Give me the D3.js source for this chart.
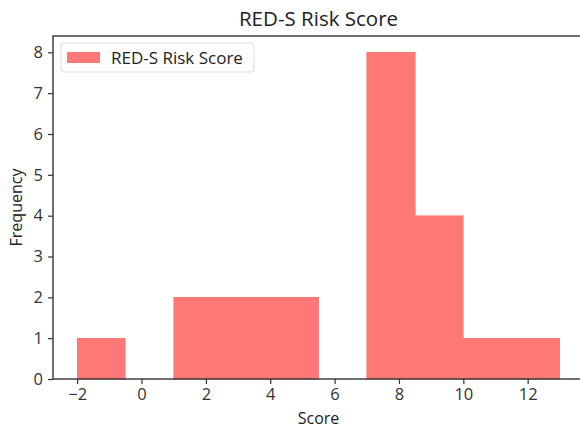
<!DOCTYPE html>
<html>
<head>
<meta charset="utf-8">
<script src="https://cdn.jsdelivr.net/npm/d3@7"></script>
<style>
  body { margin: 0; background: #fff; }
  svg { display: block; font-family: "Open Sans", "Noto Sans", sans-serif; }
</style>
</head>
<body>
<div id="chart"></div>
<script>
// histogram bins (edges) and counts
const binEdges = [-2, -0.5, 1, 2.5, 4, 5.5, 7, 8.5, 10, 11.5, 13];
const counts = [1, 0, 2, 2, 2, 0, 8, 4, 1, 1];
const xTicks = [-2, 0, 2, 4, 6, 8, 10, 12];
const yTicks = [0, 1, 2, 3, 4, 5, 6, 7, 8];
const seriesName = "RED-S Risk Score";

const width = 580, height = 428;
const margin = {top: 36, right: -4, bottom: 49, left: 53};
const barColor = "#ff7878";

const svg = d3.select("#chart").append("svg")
  .attr("width", width)
  .attr("height", height);

const bins = counts.map((c, i) => ({x0: binEdges[i], x1: binEdges[i + 1], count: c}));

const xLo = binEdges[0], xHi = binEdges[binEdges.length - 1];
const pad = (xHi - xLo) * 0.05;
const x = d3.scaleLinear()
  .domain([xLo - pad, xHi + pad])
  .range([margin.left, width - margin.right]);
const y = d3.scaleLinear()
  .domain([0, d3.max(counts) * 1.05])
  .range([height - margin.bottom, margin.top]);

svg.append("g")
  .attr("shape-rendering", "crispEdges")
  .selectAll("rect")
  .data(bins.filter(d => d.count > 0))
  .join("rect")
  .attr("x", d => x(d.x0))
  .attr("width", d => x(d.x1) - x(d.x0))
  .attr("y", d => y(d.count))
  .attr("height", d => y(0) - y(d.count))
  .attr("fill", barColor)
  .attr("stroke", barColor)
  .attr("stroke-width", 0.6);

const xAxis = svg.append("g")
  .attr("transform", `translate(0,${height - margin.bottom})`)
  .call(d3.axisBottom(x).tickValues(xTicks).tickSize(5).tickPadding(4)
    .tickFormat(d => d < 0 ? "\u2212" + Math.abs(d) : d));
const yAxis = svg.append("g")
  .attr("transform", `translate(${margin.left},0)`)
  .call(d3.axisLeft(y).tickValues(yTicks).tickSize(5).tickPadding(5));

[xAxis, yAxis].forEach(g => {
  g.select(".domain").remove();
  g.selectAll("line").attr("stroke", "#333").attr("stroke-width", 1.2);
  g.selectAll("text").attr("fill", "#333").style("font-size", "16.5px")
    .style("font-family", "'Open Sans', 'Noto Sans', sans-serif");
});

// frame
svg.append("rect")
  .attr("x", x.range()[0])
  .attr("y", margin.top)
  .attr("width", x.range()[1] - x.range()[0])
  .attr("height", y.range()[0] - margin.top)
  .attr("fill", "none")
  .attr("stroke", "#333")
  .attr("stroke-width", 1.4);

svg.append("text")
  .attr("x", (x.range()[0] + x.range()[1]) / 2)
  .attr("y", 26)
  .attr("text-anchor", "middle")
  .attr("fill", "#222")
  .style("font-size", "20.5px")
  .text(seriesName);

svg.append("text")
  .attr("x", (x.range()[0] + x.range()[1]) / 2)
  .attr("y", 424)
  .attr("text-anchor", "middle")
  .attr("fill", "#222")
  .style("font-size", "16px")
  .text("Score");

svg.append("text")
  .attr("transform", `translate(22,${(margin.top + y.range()[0]) / 2}) rotate(-90)`)
  .attr("text-anchor", "middle")
  .attr("fill", "#222")
  .style("font-size", "16px")
  .text("Frequency");

// legend
const legend = svg.append("g").attr("transform", "translate(61,43)");
legend.append("rect")
  .attr("width", 193).attr("height", 29).attr("rx", 3)
  .attr("fill", "#fff").attr("stroke", "#ddd");
legend.append("rect")
  .attr("x", 6).attr("y", 9).attr("width", 33).attr("height", 11)
  .attr("fill", barColor);
legend.append("text")
  .attr("x", 50).attr("y", 21)
  .attr("fill", "#222")
  .style("font-size", "17px")
  .text(seriesName);
</script>
</body>
</html>
